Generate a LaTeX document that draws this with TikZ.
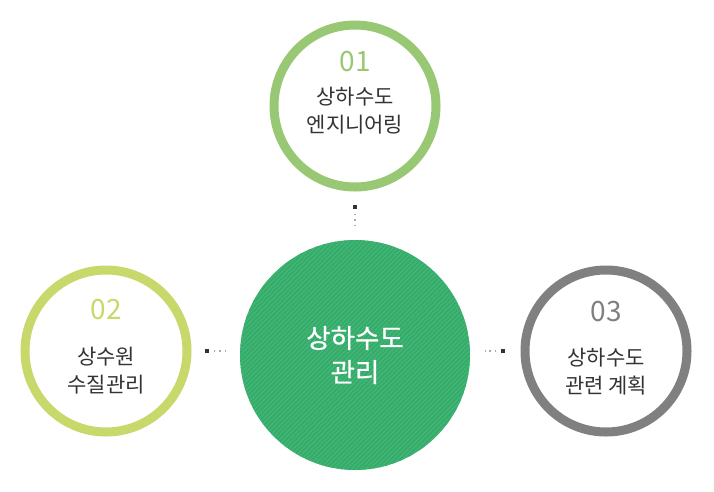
\documentclass[tikz,border=0pt]{standalone}
\usepackage{fontspec}
\setmainfont{Noto Sans CJK KR}
\newfontfamily\hubfont[FakeBold=0.6]{Noto Sans CJK KR}
\definecolor{ringA}{HTML}{99C874}
\definecolor{ringB}{HTML}{C8D86A}
\definecolor{ringC}{HTML}{808080}
\definecolor{hub}{HTML}{34AC69}
\definecolor{hubline}{HTML}{45B577}
\definecolor{txt}{HTML}{333333}
\definecolor{sqc}{HTML}{333333}
\definecolor{dotc}{HTML}{AAAAAA}
\begin{document}
\begin{tikzpicture}[x=1pt,y=-1pt,
  ring/.style={circle,draw=#1,line width=9pt,minimum size=162pt,inner sep=0pt,fill=white},
  num/.style={text=#1,font=\fontsize{28}{28}\selectfont,inner sep=0pt},
  lbl/.style={text=txt,font=\fontsize{21}{28}\selectfont,align=center,inner sep=0pt},
  hublbl/.style={text=white,font=\hubfont\fontsize{26.5}{34}\selectfont,align=center,inner sep=0pt},
  sqbox/.style={fill=sqc,minimum size=4pt,inner sep=0pt},
  dots/.style={draw=dotc,line width=1.6pt,dash pattern=on 1.6pt off 3.9pt}]
\useasboundingbox (0,0) rectangle (714,491);
\fill[white] (0,0) rectangle (714,491);
% hub
\node[circle,fill=hub,minimum size=230pt,inner sep=0pt] (hubc) at (355,355) {};
\begin{scope}
\clip (355,355) circle (115);
\foreach \k in {-60,...,60} {
  \draw[hubline,line width=1.2pt] ({355+\k*4.6-130},{355+130}) -- ({355+\k*4.6+130},{355-130});
}
\end{scope}
\node[hublbl] (hubt) at (355,355) {상하수도\\관리};
% satellites
\node[ring=ringA] (c1) at (355,106) {};
\node[ring=ringB] (c2) at (106,351) {};
\node[ring=ringC] (c3) at (606,351) {};
\node[num=ringA] (n1) at (355,62) {01};
\node[num=ringB] (n2) at (106,310) {02};
\node[num=ringC] (n3) at (606,312) {03};
\node[lbl] (t1) at (355,111) {상하수도\\엔지니어링};
\node[lbl] (t2) at (106,371) {상수원\\수질관리};
\node[lbl] (t3) at (606,372) {상하수도\\관련 계획};
% connectors
\node[sqbox] (s1) at (355,207) {};
\node[sqbox] (s2) at (207,351) {};
\node[sqbox] (s3) at (503,351) {};
\coordinate (e1) at (355,225);
\coordinate (e2) at (225,351);
\coordinate (e3) at (485,351);
\draw[dots] ([yshift=-4.5pt]s1.south) -- (e1);
\draw[dots] ([xshift=4.5pt]s2.east) -- (e2);
\draw[dots] ([xshift=-4.5pt]s3.west) -- (e3);
\end{tikzpicture}
\end{document}
